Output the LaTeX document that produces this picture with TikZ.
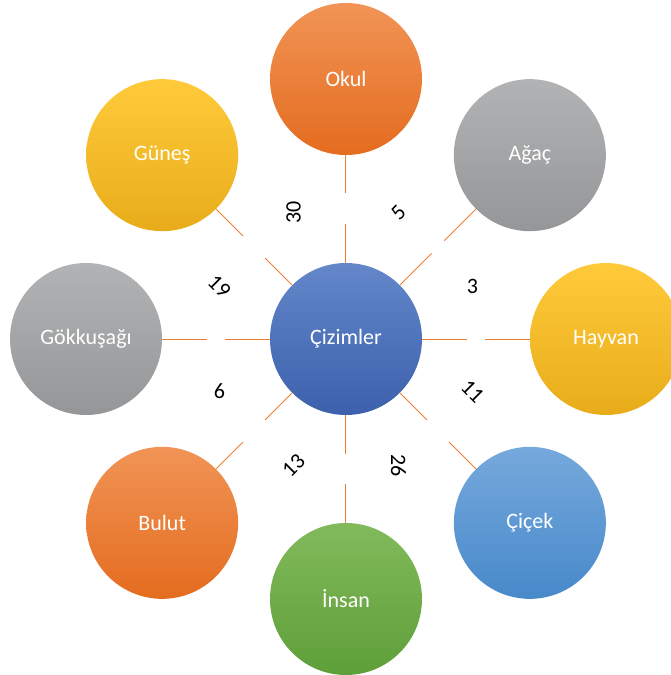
\documentclass[tikz,border=0pt]{standalone}
\usepackage{fontspec}
\setmainfont{Carlito}
\usetikzlibrary{calc}
\definecolor{orangeTop}{HTML}{F19456}
\definecolor{orangeBot}{HTML}{E46C1F}
\definecolor{grayTop}{HTML}{B2B3B5}
\definecolor{grayBot}{HTML}{959698}
\definecolor{yellowTop}{HTML}{FFCA3A}
\definecolor{yellowBot}{HTML}{E8AC1A}
\definecolor{blueTop}{HTML}{6387C9}
\definecolor{blueBot}{HTML}{3C60AC}
\definecolor{skyTop}{HTML}{76A9DC}
\definecolor{skyBot}{HTML}{4789CA}
\definecolor{greenTop}{HTML}{82BA5B}
\definecolor{greenBot}{HTML}{5E9F39}
\definecolor{linkOrange}{HTML}{ED7D31}
\newcommand{\ringRadius}[0]{260}
\newcommand{\countRadius}[0]{137}

\begin{document}
\begin{tikzpicture}[x=1pt, y=1pt]
  \tikzset{
    bubble/.style={circle, minimum size=152pt, inner sep=0pt, text=white,
      font=\fontsize{22}{26}\selectfont},
    orangebub/.style={bubble, top color=orangeTop, bottom color=orangeBot},
    graybub/.style={bubble, top color=grayTop, bottom color=grayBot},
    yellowbub/.style={bubble, top color=yellowTop, bottom color=yellowBot},
    bluebub/.style={bubble, top color=blueTop, bottom color=blueBot},
    skybub/.style={bubble, top color=skyTop, bottom color=skyBot},
    greenbub/.style={bubble, top color=greenTop, bottom color=greenBot},
    link/.style={draw=linkOrange, line width=1pt},
    count/.style={text=black, inner sep=1pt, font=\fontsize{22}{26}\selectfont}
  }
  \useasboundingbox (-346,-336) rectangle (325,339);
  \clip (-346,-336) rectangle (325,339);

  \node[bluebub] (cizim) at (0,0) {Çizimler};
  \node[orangebub] (okul) at (90:\ringRadius) {Okul};
  \node[graybub] (agac) at (45:\ringRadius) {Ağaç};
  \node[yellowbub] (hayvan) at (0:\ringRadius) {Hayvan};
  \node[skybub] (cicek) at (-45:\ringRadius) {Çiçek};
  \node[greenbub] (insan) at (-90:\ringRadius) {İnsan};
  \node[orangebub] (bulut) at (-135:\ringRadius) {Bulut};
  \node[graybub] (gokkusagi) at (180:\ringRadius) {Gökkuşağı};
  \node[yellowbub] (gunes) at (135:\ringRadius) {Güneş};

  % connectors, each one broken in the middle
  \coordinate (m-okul) at ($(cizim)!.5!(okul)$);
  \coordinate (m-agac) at ($(cizim)!.5!(agac)$);
  \coordinate (m-hayvan) at ($(cizim)!.5!(hayvan)$);
  \coordinate (m-cicek) at ($(cizim)!.5!(cicek)$);
  \coordinate (m-insan) at ($(cizim)!.5!(insan)$);
  \coordinate (m-bulut) at ($(cizim)!.5!(bulut)$);
  \coordinate (m-gokkusagi) at ($(cizim)!.5!(gokkusagi)$);
  \coordinate (m-gunes) at ($(cizim)!.5!(gunes)$);
  \draw[link, shorten >=15.5pt] (cizim) -- (m-okul);
  \draw[link, shorten >=15.5pt] (okul) -- (m-okul);
  \draw[link, shorten >=9pt] (cizim) -- (m-agac);
  \draw[link, shorten >=9pt] (agac) -- (m-agac);
  \draw[link, shorten >=8.5pt] (cizim) -- (m-hayvan);
  \draw[link, shorten >=8.5pt] (hayvan) -- (m-hayvan);
  \draw[link, shorten >=15.5pt] (cizim) -- (m-cicek);
  \draw[link, shorten >=15.5pt] (cicek) -- (m-cicek);
  \draw[link, shorten >=15pt] (cizim) -- (m-insan);
  \draw[link, shorten >=15pt] (insan) -- (m-insan);
  \draw[link, shorten >=15.5pt] (cizim) -- (m-bulut);
  \draw[link, shorten >=15.5pt] (bulut) -- (m-bulut);
  \draw[link, shorten >=9pt] (cizim) -- (m-gokkusagi);
  \draw[link, shorten >=9pt] (gokkusagi) -- (m-gokkusagi);
  \draw[link, shorten >=15.5pt] (cizim) -- (m-gunes);
  \draw[link, shorten >=15.5pt] (gunes) -- (m-gunes);

  \node[count] (n-hayvan) at (22.5:\countRadius) {3};
  \node[count, rotate=45] (n-agac) at (67.5:\countRadius) {5};
  \node[count, rotate=90] (n-okul) at (112.5:\countRadius) {30};
  \node[count, rotate=-45] (n-gunes) at (157.5:\countRadius) {19};
  \node[count] (n-gokkusagi) at (202.5:\countRadius) {6};
  \node[count, rotate=45] (n-bulut) at (247.5:\countRadius) {13};
  \node[count, rotate=-90] (n-insan) at (292.5:\countRadius) {26};
  \node[count, rotate=-45] (n-cicek) at (337.5:\countRadius) {11};
\end{tikzpicture}
\end{document}
